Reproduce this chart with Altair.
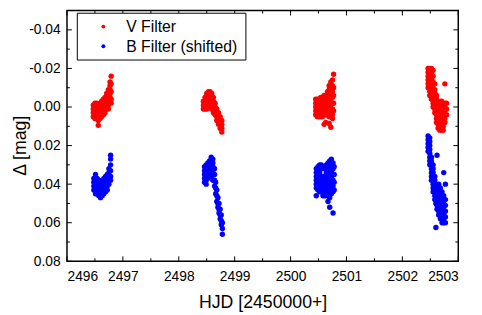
import altair as alt
import pandas as pd

# ---- data: (HJD - 2450000, [delta mag values at that time]) ----
v_night1 = [(2496.47, [-0.001, 0.001, 0.003, 0.005]),
            (2496.50, [-0.002, 0.000, 0.002, 0.004, 0.006]),
            (2496.53, [-0.002, 0.000, 0.002, 0.004, 0.006]),
            (2496.56, [-0.001, 0.001, 0.003, 0.005, 0.007, 0.0095]),
            (2496.59, [-0.002, 0.000, 0.002, 0.004, 0.006]),
            (2496.62, [-0.003, -0.001, 0.001, 0.003, 0.005]),
            (2496.65, [-0.004, -0.002, 0.000, 0.002, 0.004]),
            (2496.68, [-0.005, -0.003, -0.001, 0.001, 0.003]),
            (2496.71, [-0.007, -0.005, -0.003, -0.001, 0.001]),
            (2496.74, [-0.009, -0.007, -0.005, -0.003, -0.001, 0.001]),
            (2496.77, [-0.013, -0.011, -0.009, -0.007, -0.005, -0.003]),
            (2496.79, [-0.016, -0.012, -0.008, -0.004, -0.002])]
b_night1 = [(2496.48, [0.037, 0.039, 0.041, 0.043]),
            (2496.51, [0.035, 0.037, 0.039, 0.041, 0.043, 0.045]),
            (2496.54, [0.037, 0.039, 0.041, 0.043, 0.045]),
            (2496.57, [0.038, 0.040, 0.042, 0.044, 0.046]),
            (2496.60, [0.039, 0.041, 0.043, 0.045, 0.047]),
            (2496.63, [0.038, 0.040, 0.042, 0.044, 0.046]),
            (2496.66, [0.037, 0.039, 0.041, 0.043, 0.045]),
            (2496.69, [0.036, 0.038, 0.040, 0.042, 0.044]),
            (2496.72, [0.035, 0.037, 0.039, 0.041, 0.043]),
            (2496.75, [0.032, 0.034, 0.036, 0.038, 0.040]),
            (2496.78, [0.025, 0.027, 0.030, 0.033, 0.036, 0.038])]
v_night2 = [(2498.44, [-0.003, -0.001, 0.001]),
            (2498.47, [-0.005, -0.003, -0.001, 0.001]),
            (2498.50, [-0.007, -0.005, -0.003, -0.001, 0.001]),
            (2498.53, [-0.008, -0.006, -0.004, -0.002, 0.000]),
            (2498.56, [-0.008, -0.006, -0.004, -0.002, 0.000]),
            (2498.59, [-0.007, -0.005, -0.003, -0.001, 0.001]),
            (2498.62, [-0.005, -0.003, -0.001, 0.001, 0.003]),
            (2498.65, [-0.002, 0.000, 0.002, 0.004]),
            (2498.68, [0.001, 0.003, 0.005, 0.007]),
            (2498.71, [0.003, 0.005, 0.007, 0.009]),
            (2498.74, [0.005, 0.007, 0.009, 0.011]),
            (2498.77, [0.007, 0.009, 0.011, 0.013])]
b_night2 = [(2498.46, [0.031, 0.033, 0.035, 0.037, 0.039]),
            (2498.49, [0.030, 0.032, 0.034, 0.036, 0.038, 0.040]),
            (2498.52, [0.029, 0.031, 0.033, 0.035, 0.037]),
            (2498.55, [0.028, 0.030, 0.032, 0.034, 0.036]),
            (2498.58, [0.026, 0.028, 0.030, 0.032, 0.034, 0.036]),
            (2498.61, [0.027, 0.029, 0.031, 0.033, 0.035, 0.038]),
            (2498.64, [0.032, 0.035, 0.038, 0.041]),
            (2498.66, [0.039, 0.042, 0.045]),
            (2498.68, [0.043, 0.046, 0.049]),
            (2498.70, [0.047, 0.050, 0.052]),
            (2498.72, [0.050, 0.053, 0.055]),
            (2498.74, [0.053, 0.056, 0.058]),
            (2498.76, [0.056, 0.059, 0.061]),
            (2498.78, [0.060, 0.063, 0.066])]
v_night3 = [(2500.45, [-0.004, -0.002, 0.000, 0.002, 0.004]),
            (2500.48, [-0.004, -0.002, 0.000, 0.002, 0.004, 0.005]),
            (2500.51, [-0.004, -0.002, 0.000, 0.002, 0.004, 0.005]),
            (2500.54, [-0.005, -0.003, -0.001, 0.001, 0.003, 0.005]),
            (2500.57, [-0.005, -0.003, -0.001, 0.001, 0.003, 0.005]),
            (2500.60, [-0.006, -0.004, -0.002, 0.000, 0.002, 0.004, 0.009]),
            (2500.63, [-0.006, -0.004, -0.002, 0.000, 0.002, 0.004, 0.008]),
            (2500.66, [-0.008, -0.006, -0.004, -0.002, 0.000, 0.002, 0.004]),
            (2500.69, [-0.011, -0.009, -0.007, -0.005, -0.003, -0.001, 0.001, 0.003, 0.005, 0.0085]),
            (2500.72, [-0.013, -0.011, -0.009, -0.007, -0.005, -0.003, -0.001, 0.001, 0.003, 0.005, 0.0105]),
            (2500.75, [-0.014, -0.011, -0.008, -0.005, -0.002, 0.001, 0.004, 0.006]),
            (2500.77, [-0.017, -0.010, -0.006, -0.002, 0.002])]
b_night3 = [(2500.46, [0.032, 0.034, 0.036, 0.038, 0.040, 0.042, 0.046]),
            (2500.49, [0.031, 0.033, 0.035, 0.037, 0.039, 0.041, 0.043]),
            (2500.52, [0.030, 0.032, 0.034, 0.036, 0.038, 0.040, 0.042, 0.044]),
            (2500.55, [0.030, 0.032, 0.036, 0.038, 0.040, 0.042, 0.044]),
            (2500.58, [0.031, 0.036, 0.038, 0.040, 0.042, 0.044, 0.046]),
            (2500.61, [0.032, 0.036, 0.038, 0.040, 0.042, 0.044, 0.046]),
            (2500.64, [0.030, 0.032, 0.034, 0.036, 0.038, 0.040, 0.042, 0.044, 0.046]),
            (2500.67, [0.029, 0.031, 0.033, 0.035, 0.037, 0.039, 0.041, 0.043, 0.045, 0.049]),
            (2500.70, [0.028, 0.030, 0.032, 0.034, 0.036, 0.038, 0.040, 0.042, 0.044, 0.047, 0.052]),
            (2500.73, [0.027, 0.030, 0.033, 0.036, 0.039, 0.042, 0.045]),
            (2500.76, [0.029, 0.032, 0.035, 0.038, 0.041, 0.044, 0.055]),
            (2500.78, [0.031, 0.035, 0.039, 0.043])]
v_night4 = [(2502.46, [-0.020, -0.018, -0.016, -0.014, -0.012, -0.010]),
            (2502.49, [-0.020, -0.018, -0.016, -0.014, -0.012, -0.010, -0.008, -0.006]),
            (2502.52, [-0.020, -0.018, -0.016, -0.014, -0.012, -0.010, -0.008, -0.006, -0.004]),
            (2502.55, [-0.019, -0.016, -0.013, -0.010, -0.008, -0.006, -0.004, -0.002, 0.000]),
            (2502.58, [-0.012, -0.009, -0.007, -0.005, -0.003, -0.001, 0.001, 0.003]),
            (2502.61, [-0.006, -0.004, -0.002, 0.000, 0.002, 0.004, 0.006, 0.008]),
            (2502.64, [-0.003, -0.001, 0.001, 0.003, 0.005, 0.007, 0.009, 0.011]),
            (2502.67, [-0.002, 0.000, 0.002, 0.004, 0.006, 0.008, 0.010, 0.012]),
            (2502.70, [-0.003, -0.001, 0.001, 0.003, 0.005, 0.007, 0.009, 0.012]),
            (2502.73, [-0.002, 0.000, 0.002, 0.004, 0.006, 0.008, 0.010, 0.012]),
            (2502.76, [-0.012, -0.002, 0.000, 0.002, 0.004, 0.006, 0.008]),
            (2502.79, [-0.002, 0.001, 0.004])]
b_night4 = [(2502.46, [0.015, 0.017, 0.019, 0.021, 0.023]),
            (2502.49, [0.016, 0.018, 0.020, 0.022, 0.024, 0.026, 0.028, 0.030]),
            (2502.52, [0.026, 0.028, 0.030, 0.032, 0.034, 0.036, 0.038]),
            (2502.55, [0.030, 0.032, 0.034, 0.036, 0.038, 0.040, 0.042, 0.044]),
            (2502.58, [0.036, 0.038, 0.040, 0.042, 0.044, 0.046, 0.048]),
            (2502.60, [0.040, 0.042, 0.044, 0.046, 0.048, 0.050, 0.0625]),
            (2502.62, [0.025, 0.043, 0.045, 0.047, 0.049, 0.051, 0.053]),
            (2502.65, [0.040, 0.042, 0.044, 0.046, 0.048, 0.050, 0.052, 0.054, 0.056]),
            (2502.68, [0.042, 0.044, 0.046, 0.048, 0.050, 0.052, 0.054, 0.056, 0.058]),
            (2502.71, [0.044, 0.046, 0.048, 0.050, 0.052, 0.054, 0.056, 0.058, 0.060]),
            (2502.74, [0.034, 0.046, 0.048, 0.050, 0.052, 0.054, 0.056, 0.058, 0.060]),
            (2502.77, [0.040, 0.048, 0.051, 0.054, 0.057, 0.060])]

series = ["V Filter", "B Filter (shifted)"]
colors = ["#ff0000", "#0000ff"]
x_major = [2496, 2497, 2498, 2499, 2500, 2501, 2502, 2503]
x_minor = [2496.5, 2497.5, 2498.5, 2499.5, 2500.5, 2501.5, 2502.5]
y_major = [-0.04, -0.02, 0.0, 0.02, 0.04, 0.06, 0.08]
y_minor = [-0.03, -0.01, 0.01, 0.03, 0.05, 0.07]

rows = []
for name, nights in ((series[0], [v_night1, v_night2, v_night3, v_night4]),
                     (series[1], [b_night1, b_night2, b_night3, b_night4])):
    for night in nights:
        for h, mags in night:
            for m in mags:
                rows.append({"hjd": h, "mag": m, "filter": name})
df = pd.DataFrame(rows)

W, H = 398, 255
FONT = "Liberation Sans"

xs = alt.Scale(domain=[2496, 2503], nice=False, zero=False)
ys = alt.Scale(domain=[-0.05, 0.08], nice=False, zero=False, reverse=True)

x_axis = alt.Axis(values=x_major, format="d", ticks=False, domain=False, grid=False,
                  labelFont=FONT, labelFontSize=14, labelColor="black", labelPadding=9,
                  title="HJD [2450000+]", titleFont=FONT, titleFontSize=18, titleFontWeight="normal",
                  titleColor="black", titleAlign="center", titleBaseline="alphabetic",
                  titleX=W / 2, titleY=47)
y_axis = alt.Axis(values=y_major, ticks=False, domain=False, grid=False,
                  labelExpr="(datum.value < 0 ? '-' : '') + format(abs(datum.value), '.2f')",
                  labelFont=FONT, labelFontSize=14, labelColor="black", labelPadding=7,
                  title="Δ [mag]", titleFont=FONT, titleFontSize=18, titleFontWeight="normal",
                  titleColor="black", titleAngle=270, titleAlign="center", titleBaseline="alphabetic",
                  titleX=-42, titleY=137)


def xticks(vals, y0, y1):
    return alt.Chart(pd.DataFrame({"hjd": vals})).mark_rule(color="black", strokeWidth=1).encode(
        x=alt.X("hjd:Q", scale=xs, axis=x_axis), y=alt.value(y0), y2=alt.value(y1))


def yticks(vals, x0, x1):
    return alt.Chart(pd.DataFrame({"mag": vals})).mark_rule(color="black", strokeWidth=1).encode(
        y=alt.Y("mag:Q", scale=ys, axis=y_axis), x=alt.value(x0), x2=alt.value(x1))


ticks = [
    xticks(x_major, H, H - 5), xticks(x_minor, H, H - 3),
    xticks(x_major, 0, 5), xticks(x_minor, 0, 3),
    yticks(y_major, 0, 5), yticks(y_minor, 0, 3),
    yticks(y_major, W, W - 5), yticks(y_minor, W, W - 3),
]

points = alt.Chart(df).mark_circle(size=30, opacity=1).encode(
    x=alt.X("hjd:Q", scale=xs, axis=x_axis),
    y=alt.Y("mag:Q", scale=ys, axis=y_axis),
    color=alt.Color("filter:N", scale=alt.Scale(domain=series, range=colors), legend=None),
)

# hand-drawn legend box (inside the plot, top-left)
legend_df = pd.DataFrame({"filter": series})
legend_box = alt.Chart(legend_df.head(1)).mark_rect(
    fill="white", stroke="black", strokeWidth=1).encode(
    x=alt.value(10.5), x2=alt.value(182), y=alt.value(2.7), y2=alt.value(50.3))
legend_items = []
for i, name in enumerate(series):
    one = legend_df[legend_df["filter"] == name]
    legend_items.append(alt.Chart(one).mark_circle(size=16, opacity=1, color=colors[i]).encode(
        x=alt.value(37), y=alt.value(16.3 + 20 * i)))
    legend_items.append(alt.Chart(one).mark_text(
        align="left", baseline="middle", font=FONT, fontSize=16, color="black").encode(
        x=alt.value(60.3), y=alt.value(17 + 20 * i), text="filter:N"))

chart = alt.layer(*ticks, points, legend_box, *legend_items).properties(
    width=W, height=H,
    autosize=alt.AutoSizeParams(type="none"),
    padding={"left": 60, "top": 0, "right": 16, "bottom": 51},
).configure_view(stroke="black", strokeWidth=1.5)

chart.save("out.html", embed_options={"renderer": "svg", "actions": False})
